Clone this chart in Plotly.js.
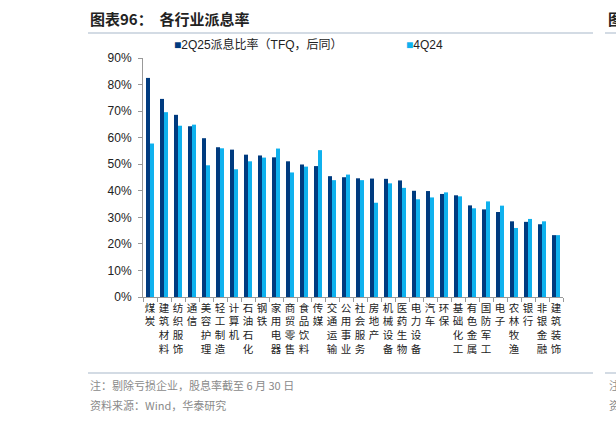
<!DOCTYPE html>
<html>
<head>
<meta charset="utf-8">
<script src="https://cdn.plot.ly/plotly-3.0.1.min.js"></script>
<style>
html,body{margin:0;padding:0;background:#fff;}
#chart{width:616px;height:423px;}
</style>
</head>
<body>
<div id="chart"></div>
<script>
const categories = ["煤炭","建筑材料","纺织服饰","通信","美容护理","轻工制造","计算机","石油石化","钢铁","家用电器",
  "商贸零售","食品饮料","传媒","交通运输","公用事业","社会服务","房地产","机械设备","医药生物","电力设备",
  "汽车","环保","基础化工","有色金属","国防军工","电子","农林牧渔","银行","非银金融","建筑装饰"];
const series2Q25 = [82.5,74.6,68.6,64.3,59.8,56.4,55.5,53.6,53.3,52.6,
  51.1,49.9,49.3,45.5,45.1,44.7,44.6,44.5,43.9,40.0,
  39.9,38.8,38.3,34.5,33.0,32.0,28.5,28.3,27.4,23.3];
const series4Q24 = [57.8,69.6,64.5,64.9,49.6,56.0,48.1,51.1,52.5,55.9,
  46.9,49.1,55.3,44.0,46.1,44.0,35.5,42.8,41.1,36.8,
  37.5,39.4,37.9,33.4,36.0,34.4,26.0,29.4,28.5,23.3];
const seriesNames = ["2Q25派息比率（TFQ，后同）","4Q24"];
const yTicks = [0,10,20,30,40,50,60,70,80,90];

const DARK = "#003b7f", LIGHT = "#0fb1ee";
const tickText = categories.map(c => c.split("").join("<br>"));

// pixel helpers (plot area: x 143..563, y 58..297)
const L = 143, R = 563, T = 58, B = 297;
const px = x => (x - L) / (R - L);
const py = y => (B - y) / (B - T);

const traces = [
  {type:"bar", x:categories, y:series2Q25.map(v=>v/100), name:seriesNames[0],
   marker:{color:DARK}, showlegend:false, hoverinfo:"x+y"},
  {type:"bar", x:categories, y:series4Q24.map(v=>v/100), name:seriesNames[1],
   marker:{color:LIGHT}, showlegend:false, hoverinfo:"x+y"}
];

const lineColor = "#a7b7c9";
const layout = {
  width:616, height:423,
  margin:{l:L, r:616-R, t:T, b:423-B, pad:0},
  paper_bgcolor:"#fff", plot_bgcolor:"#fff",
  barmode:"group", bargap:0.43, bargroupgap:0,
  font:{family:"Liberation Sans, Arial, sans-serif", size:12, color:"#222"},
  xaxis:{
    type:"category", tickmode:"array", tickvals:categories, ticktext:tickText,
    tickson:"boundaries", ticks:"outside", ticklen:4, tickcolor:"#999",
    showline:true, linecolor:"#999", linewidth:1, showgrid:false,
    tickfont:{family:"Noto Sans CJK SC", size:10.5, color:"#222"},
    tickangle:0, fixedrange:true, ticklabelstandoff:1
  },
  yaxis:{
    range:[0,0.9], tickmode:"array", tickvals:yTicks.map(v=>v/100),
    ticktext:yTicks.map(v=>v+"%"),
    ticks:"outside", ticklen:4, tickcolor:"#999",
    showline:true, linecolor:"#999", linewidth:1, showgrid:false, zeroline:false,
    tickfont:{family:"Liberation Sans, Arial, sans-serif", size:12, color:"#222"},
    ticklabelstandoff:4, fixedrange:true
  },
  shapes:[
    {type:"line", xref:"paper", yref:"paper", x0:px(88), x1:px(593), y0:py(33), y1:py(33), line:{color:lineColor, width:1}},
    {type:"line", xref:"paper", yref:"paper", x0:px(605), x1:px(620), y0:py(33), y1:py(33), line:{color:lineColor, width:1}},
    {type:"line", xref:"paper", yref:"paper", x0:px(88), x1:px(593), y0:py(373), y1:py(373), line:{color:lineColor, width:1}},
    {type:"line", xref:"paper", yref:"paper", x0:px(605), x1:px(620), y0:py(373), y1:py(373), line:{color:lineColor, width:1}}
  ],
  annotations:[
    {xref:"paper", yref:"paper", x:px(88), y:py(18), xanchor:"left", yanchor:"middle", showarrow:false,
     text:"<b>图表96：  各行业派息率</b>", font:{family:"Noto Sans CJK SC", size:15, color:"#222"}},
    {xref:"paper", yref:"paper", x:px(606), y:py(18), xanchor:"left", yanchor:"middle", showarrow:false,
     text:"<b>图</b>", font:{family:"Noto Sans CJK SC", size:15, color:"#222"}},
    {xref:"paper", yref:"paper", x:px(172), y:py(45), xanchor:"left", yanchor:"middle", showarrow:false,
     text:"<span style='color:"+DARK+"'>■</span>"+seriesNames[0], font:{family:"Liberation Sans, Noto Sans CJK SC", size:12, color:"#222"}},
    {xref:"paper", yref:"paper", x:px(404), y:py(45), xanchor:"left", yanchor:"middle", showarrow:false,
     text:"<span style='color:"+LIGHT+"'>■</span>"+seriesNames[1], font:{family:"Liberation Sans, Noto Sans CJK SC", size:12, color:"#222"}},
    {xref:"paper", yref:"paper", x:px(88), y:py(385), xanchor:"left", yanchor:"middle", showarrow:false,
     text:"注：剔除亏损企业，股息率截至 6 月 30 日", font:{family:"Noto Sans CJK SC", size:11, color:"#8a8a8a"}},
    {xref:"paper", yref:"paper", x:px(88), y:py(405), xanchor:"left", yanchor:"middle", showarrow:false,
     text:"资料来源：Wind，华泰研究", font:{family:"Noto Sans CJK SC", size:11, color:"#8a8a8a"}},
    {xref:"paper", yref:"paper", x:px(607), y:py(385), xanchor:"left", yanchor:"middle", showarrow:false,
     text:"注", font:{family:"Noto Sans CJK SC", size:11, color:"#8a8a8a"}},
    {xref:"paper", yref:"paper", x:px(607), y:py(405), xanchor:"left", yanchor:"middle", showarrow:false,
     text:"资", font:{family:"Noto Sans CJK SC", size:11, color:"#8a8a8a"}}
  ]
};

Plotly.newPlot("chart", traces, layout, {displayModeBar:false, staticPlot:true});
</script>
</body>
</html>
